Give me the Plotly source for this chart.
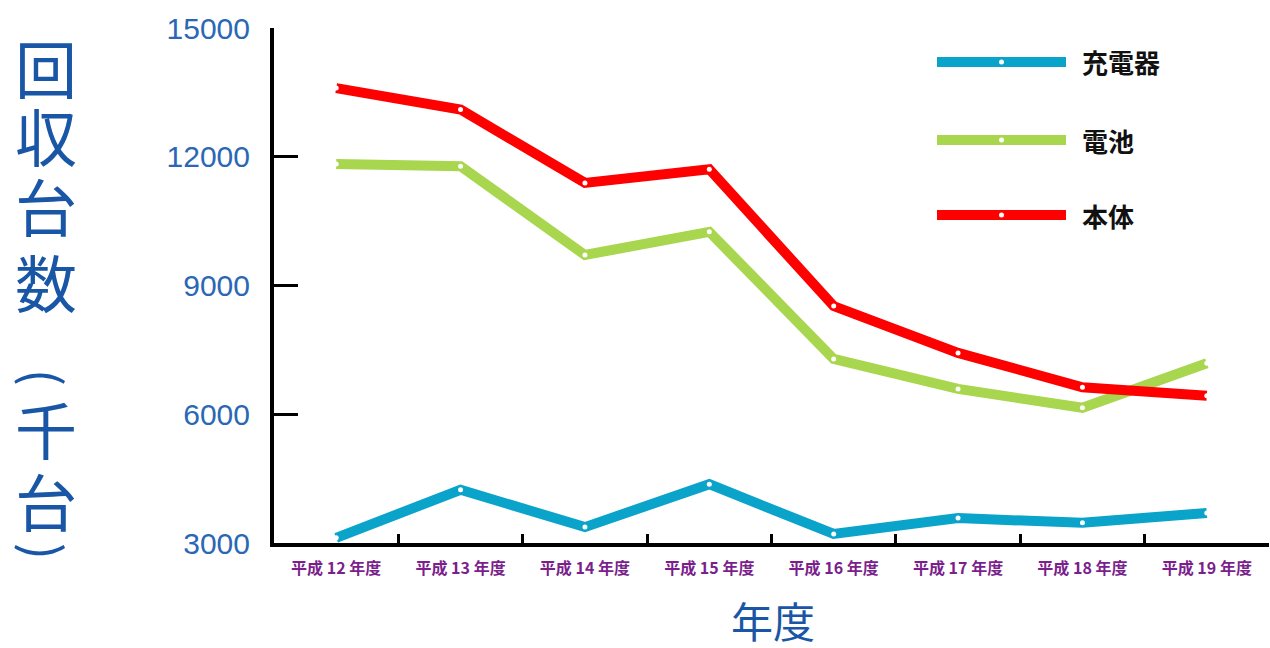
import plotly.graph_objects as go

categories = ["平成 12 年度", "平成 13 年度", "平成 14 年度", "平成 15 年度",
              "平成 16 年度", "平成 17 年度", "平成 18 年度", "平成 19 年度"]
charger = [3120, 4240, 3370, 4370, 3210, 3580, 3470, 3700]
battery = [11830, 11780, 9710, 10250, 7290, 6590, 6150, 7190]
body = [13600, 13100, 11390, 11710, 8520, 7430, 6630, 6430]
series_names = ["充電器", "電池", "本体"]
series_colors = ["#0aa3c9", "#a8d64e", "#ff0000"]
y_ticks = [3000, 6000, 9000, 12000, 15000]
y_title_chars = ["回", "収", "台", "数", "(", "千", "台", ")"]
x_title = "年度"

W, H = 1270, 648
L, R, T, B = 274, 1, 28, 105
PW, PH = W - L - R, H - T - B

def px_x(p):
    return (p - L) / PW

def px_y(p):
    return (H - B - p) / PH

fig = go.Figure()
for name, vals, col in zip(series_names, [charger, battery, body], series_colors):
    fig.add_trace(go.Scatter(
        x=categories, y=vals, name=name, mode="lines+markers",
        line=dict(color=col, width=10),
        marker=dict(symbol="circle", size=5, color="white", line=dict(width=0)),
        showlegend=False,
    ))

shapes = []
annotations = []
leg_y = [62, 140, 215]
for name, col, ly in zip(series_names, series_colors, leg_y):
    shapes.append(dict(type="line", xref="paper", yref="paper",
                       x0=px_x(937), x1=px_x(1066), y0=px_y(ly), y1=px_y(ly),
                       line=dict(color=col, width=10)))
    shapes.append(dict(type="circle", xref="paper", yref="paper",
                       x0=px_x(999), x1=px_x(1004), y0=px_y(ly + 2.5), y1=px_y(ly - 2.5),
                       fillcolor="white", line=dict(width=0)))
    annotations.append(dict(text=name, xref="paper", yref="paper",
                            x=px_x(1080), y=px_y(ly), xanchor="left", yanchor="middle",
                            showarrow=False,
                            font=dict(family="Noto Sans CJK JP", size=26, color="#111111", weight="bold")))

char_y = [67, 135, 205, 281, 377, 428, 500, 551]
for ch, cy in zip(y_title_chars, char_y):
    is_paren = ch in ("(", ")")
    annotations.append(dict(text=ch, xref="paper", yref="paper",
                            x=px_x(46), y=px_y(cy), xanchor="center", yanchor="middle",
                            showarrow=False, textangle=90 if is_paren else 0,
                            font=dict(family="Noto Sans CJK JP", size=50 if is_paren else 62,
                                      color="#1a56a6")))

annotations.append(dict(text=x_title, xref="paper", yref="paper",
                        x=px_x(773), y=px_y(619), xanchor="center", yanchor="middle",
                        showarrow=False,
                        font=dict(family="Noto Sans CJK JP", size=42, color="#1a56a6")))

fig.update_layout(
    width=W, height=H,
    margin=dict(l=L, r=R, t=T, b=B, pad=0),
    paper_bgcolor="white", plot_bgcolor="white",
    shapes=shapes, annotations=annotations,
    xaxis=dict(
        type="category", range=[-0.5, 7.5],
        showline=True, linecolor="black", linewidth=4,
        ticks="inside", tickson="boundaries", ticklen=9, tickwidth=3, tickcolor="black",
        showgrid=False, zeroline=False,
        tickfont=dict(family="Noto Sans CJK JP", size=16, color="#7a1f8c", weight="bold"),
        ticklabelstandoff=8,
    ),
    yaxis=dict(
        range=[3000, 15000], tickvals=y_ticks, ticktext=[str(v) for v in y_ticks],
        showline=True, linecolor="black", linewidth=4,
        ticks="inside", ticklen=24, tickwidth=3, tickcolor="black",
        showgrid=False, zeroline=False,
        tickfont=dict(family="Liberation Sans", size=30, color="#2a67b5"),
        ticklabelstandoff=14,
    ),
)

fig.write_html("out.html", config={"displayModeBar": False},
               post_script="document.body.style.margin='0px';document.body.style.overflow='hidden';")
